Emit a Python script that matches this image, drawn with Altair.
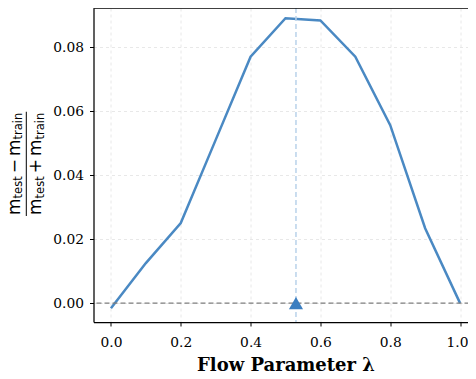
import altair as alt
import pandas as pd

# Data
lam = [0.0, 0.1, 0.2, 0.3, 0.4, 0.5, 0.6, 0.7, 0.8, 0.9, 1.0]
asym = [-0.0016, 0.0125, 0.025, 0.051, 0.077, 0.089, 0.0883, 0.077, 0.0556, 0.0234, 0.0]
x_ticks = [0.0, 0.2, 0.4, 0.6, 0.8, 1.0]
y_ticks = [0.0, 0.02, 0.04, 0.06, 0.08]
marker_lam = [0.53]
marker_val = [0.0]
zero_level = [0.0]

LINE = "#4a89c3"
PADL = 85.5
W, H = 384, 314

df = pd.DataFrame({"lam": lam, "v": asym})
mk = pd.DataFrame({"lam": marker_lam, "v": marker_val})
zr = pd.DataFrame({"v": zero_level})
one = pd.DataFrame({"a": [0]})

xs = alt.Scale(domain=[-0.05, 1.05], nice=False, zero=False)
ys = alt.Scale(domain=[-0.0059, 0.0922], nice=False, zero=False)

xax = alt.Axis(values=x_ticks, format=".1f", title="Flow Parameter λ",
               grid=True, gridDash=[3, 3], gridColor="#e2e2e2", gridWidth=0.8,
               labelFont="DejaVu Serif", labelFontSize=13.8, labelColor="black",
               labelPadding=9, tickColor="black", tickSize=4, tickWidth=1,
               labelOffset={"condition": {"test": "datum.value >= 0.99", "value": -3}, "value": 0},
               domainColor="black", domainWidth=1.25,
               titleFont="DejaVu Serif", titleFontSize=18, titleFontWeight="bold",
               titleColor="black", titlePadding=8)
yax = alt.Axis(values=y_ticks, format=".2f", title=None,
               grid=True, gridDash=[3, 3], gridColor="#e2e2e2", gridWidth=0.8,
               labelFont="DejaVu Serif", labelFontSize=13.8, labelColor="black",
               labelPadding=6, tickColor="black", tickSize=4, tickWidth=1,
               domainColor="black", domainWidth=1.25)

line = alt.Chart(df).mark_line(color=LINE, strokeWidth=2.5).encode(
    x=alt.X("lam:Q", scale=xs, axis=xax),
    y=alt.Y("v:Q", scale=ys, axis=yax),
)

zero = alt.Chart(zr).mark_rule(color="#7f7f7f", strokeDash=[5, 3], strokeWidth=1.2).encode(
    y=alt.Y("v:Q", scale=ys)
)

vline = alt.Chart(mk).mark_rule(color="#b9d2ea", strokeDash=[5, 3], strokeWidth=1.5).encode(
    x=alt.X("lam:Q", scale=xs)
)

tri = alt.Chart(mk).mark_point(shape="triangle-up", filled=True, opacity=1,
                               color="#3b7ec0", size=200).encode(
    x=alt.X("lam:Q", scale=xs), y=alt.Y("v:Q", scale=ys)
)

top_spine = alt.Chart(one).mark_rule(color="black", strokeWidth=1.25).encode(
    x=alt.value(0), x2=alt.value(W), y=alt.value(0)
)

# y-axis label as a stacked fraction
OX = 8 + PADL
OY = 8
MS, SS = 17, 11.5


def piece(txt, px, py, size):
    return alt.Chart(one).mark_text(
        text=txt, angle=270, align="left", baseline="alphabetic",
        font="DejaVu Sans", fontSize=size, color="black"
    ).encode(x=alt.value(px - OX), y=alt.value(py - OY))


def expr_pieces(base_x, sub_dx, start_y, op):
    parts = []
    y = start_y
    parts.append(piece("m", base_x, y, MS)); y -= 0.974 * MS
    parts.append(piece("test", base_x + sub_dx, y, SS)); y -= 1.92 * SS + 3
    parts.append(piece(op, base_x, y, MS)); y -= 0.838 * MS + 3
    parts.append(piece("m", base_x, y, MS)); y -= 0.974 * MS
    parts.append(piece("train", base_x + sub_dx, y, SS)); y -= 2.33 * SS
    return parts, y


num, yend = expr_pieces(20, 2.4, 215, "−")
den, _ = expr_pieces(40.7, 3.3, 215, "+")
bar = alt.Chart(one).mark_rule(color="black", strokeWidth=1).encode(
    x=alt.value(26.3 - OX), y=alt.value(216 - OY), y2=alt.value(yend - 1 - OY)
)

chart = alt.layer(line, zero, vline, tri, top_spine, bar, *num, *den).properties(
    width=W, height=H,
    autosize=alt.AutoSizeParams(type="none"),
    padding={"left": PADL, "top": 0, "right": -9.5, "bottom": 55},
).configure_view(stroke="transparent", strokeWidth=0)

chart.save("out.html", embed_options={"renderer": "svg", "actions": False})
